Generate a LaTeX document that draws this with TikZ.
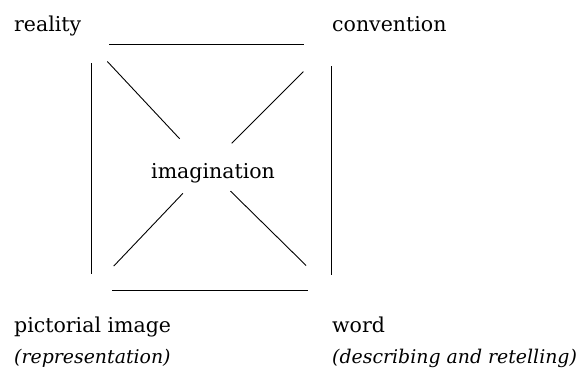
\documentclass[tikz,border=0pt]{standalone}
\usepackage{fontspec}
\setmainfont{DejaVu Serif}
\begin{document}
\begin{tikzpicture}[x=1pt, y=-1pt,
    lbl/.style={font=\fontsize{20.5}{24}\selectfont, inner sep=0, anchor=base west},
    sub/.style={lbl, font=\fontsize{18.9}{22}\selectfont\itshape},
    rule/.style={line width=0.9pt, black}]
        \useasboundingbox (0,0) rectangle (582,372);
        \def\lx{14}   % left column
        \def\rx{332}  % right column

        % corner labels
        \node[lbl] (reality)    at (\lx, 31)  {reality};
        \node[lbl] (convention) at (\rx, 31)  {convention};
        \node[lbl] (pictorial)  at (\lx, 332) {pictorial image};
        \node[lbl] (word)       at (\rx, 332) {word};
        \node[sub] (repr)       at (\lx, 363) {(representation)};
        \node[sub] (descr)      at (\rx, 363) {(describing and retelling)};
        % centre label
        \node[lbl] (imagination) at (151, 178) {imagination};

        % square corners and crossing point
        \coordinate (tl) at (91, 44);
        \coordinate (tr) at (331, 44);
        \coordinate (bl) at (91, 290);
        \coordinate (br) at (331, 290);
        \coordinate (mid) at (207, 168);

        % sides
        \draw[rule, shorten <=18pt, shorten >=27pt] (tl) -- (tr);
        \draw[rule, shorten <=21pt, shorten >=23pt] (bl) -- (br);
        \draw[rule, shorten <=19pt, shorten >=16pt] (tl) -- (bl);
        \draw[rule, shorten <=22pt, shorten >=15pt] (tr) -- (br);

        % diagonals towards imagination
        \draw[rule, shorten <=24pt, shorten >=40pt] (tl) -- (mid);
        \draw[rule, shorten <=39pt, shorten >=35pt] (tr) -- (mid);
        \draw[rule, shorten <=33pt, shorten >=35pt] (bl) -- (mid);
        \draw[rule, shorten <=35pt, shorten >=33pt] (br) -- (mid);
\end{tikzpicture}
\end{document}
